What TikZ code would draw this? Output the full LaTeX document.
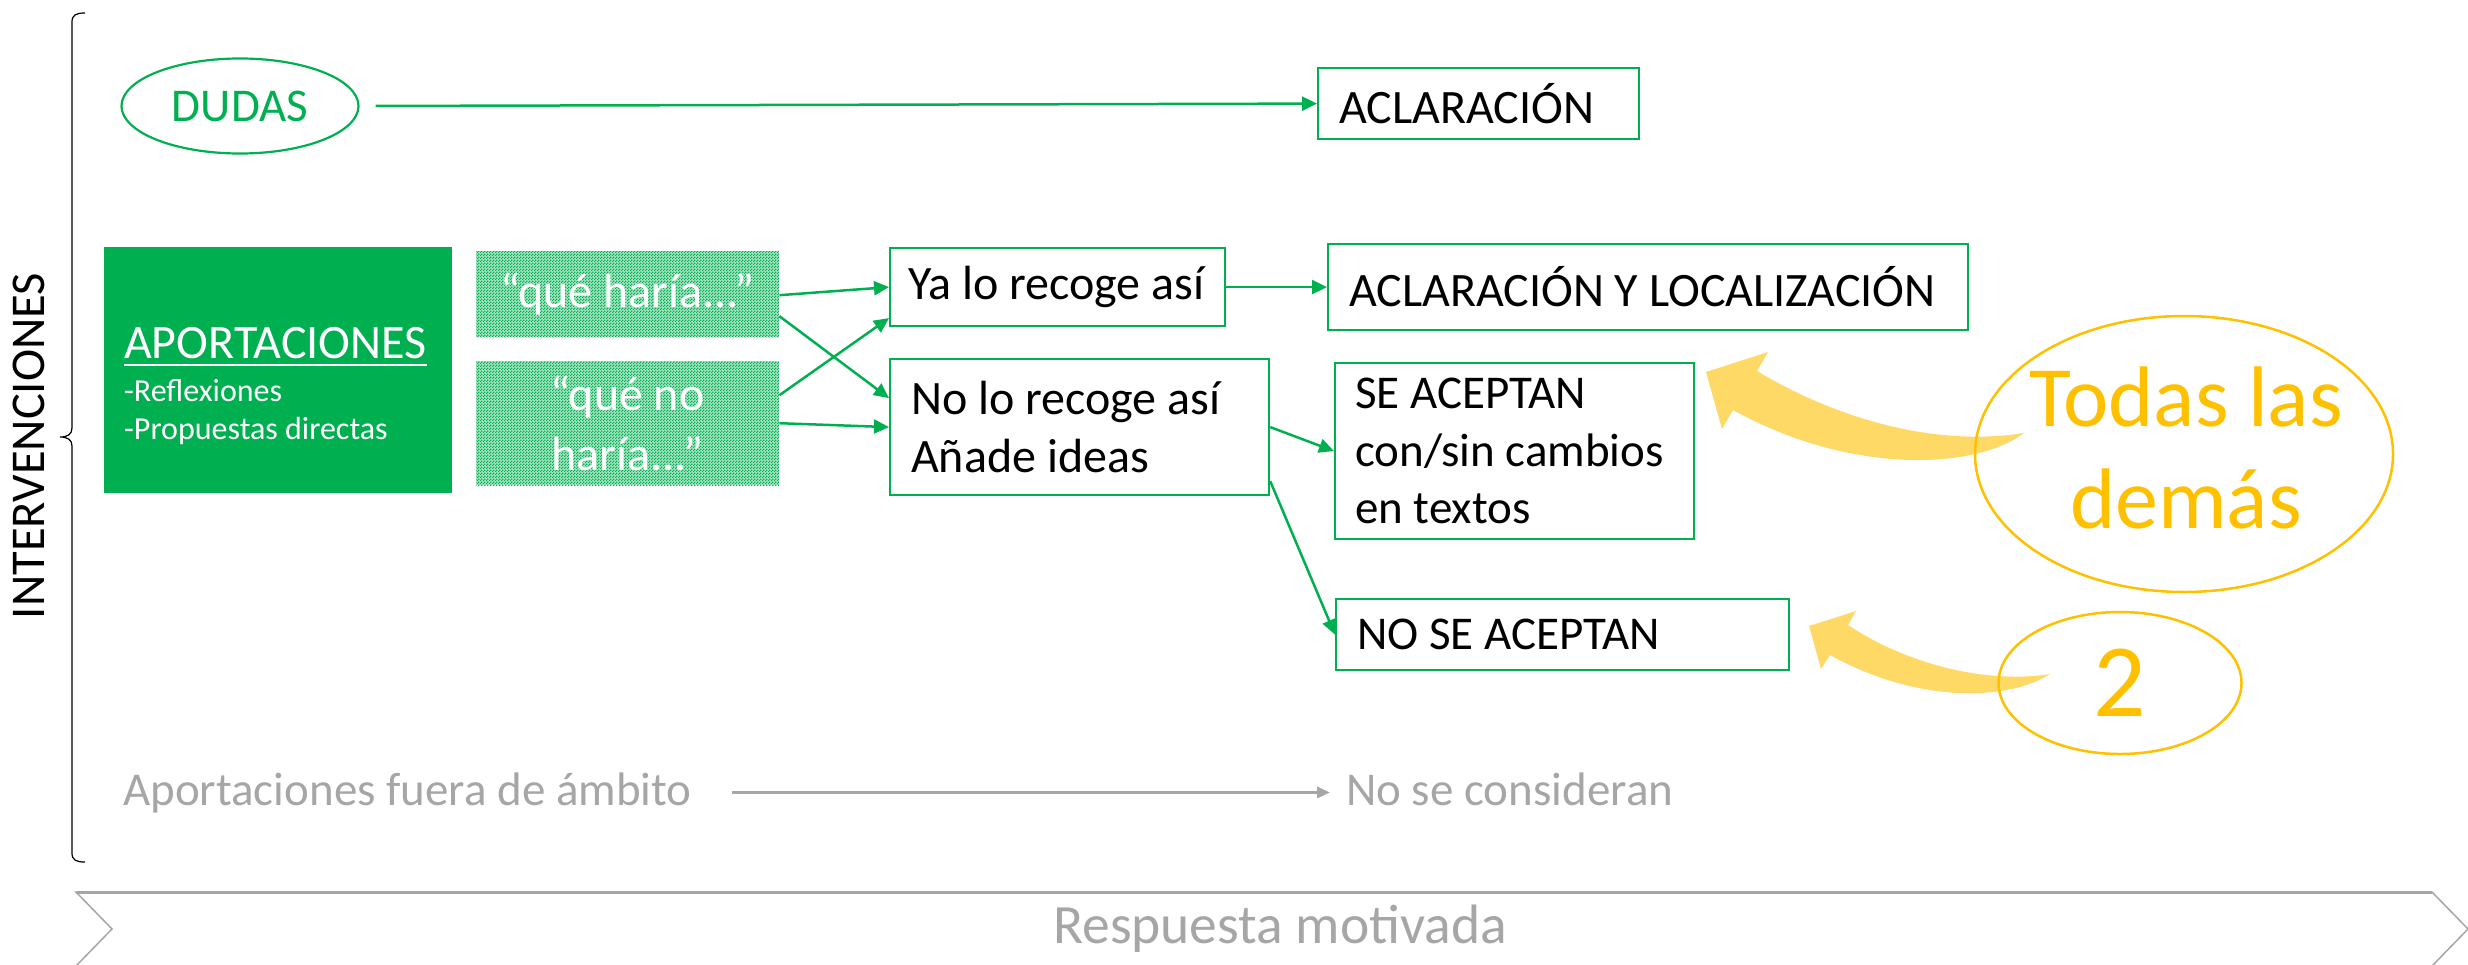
\documentclass[tikz,border=0pt]{standalone}
\usepackage{fontspec}
\setmainfont{Carlito}
\usetikzlibrary{arrows.meta,shapes.geometric,patterns}
\definecolor{xgreen}{RGB}{0,176,80}
\definecolor{xgold}{RGB}{255,192,0}
\definecolor{xgoldfill}{RGB}{255,217,102}
\definecolor{xgray}{RGB}{166,166,166}
\pgfdeclarepatternformonly{xchecker}{\pgfpointorigin}{\pgfqpoint{3pt}{3pt}}{\pgfqpoint{3pt}{3pt}}{%
  \pgfpathrectangle{\pgfpointorigin}{\pgfqpoint{1.5pt}{1.5pt}}%
  \pgfpathrectangle{\pgfqpoint{1.5pt}{1.5pt}}{\pgfqpoint{1.5pt}{1.5pt}}%
  \pgfusepath{fill}}
\begin{document}
\begin{tikzpicture}[x=1pt, y=-1pt,
  gbox/.style={draw=xgreen, line width=2.2pt, anchor=north west, align=flush left, inner ysep=0pt, text=black, font=\fontsize{48}{58}\selectfont},
  garrow/.style={draw=xgreen, line width=2.5pt, -{Triangle[length=15pt,width=14pt]}},
  qbox/.style={preaction={fill=xgreen!35}, pattern=xchecker, pattern color=xgreen, anchor=north west, align=center, text=white, inner sep=0pt, font=\fontsize{48}{60}\selectfont},
  whitetext/.style={text=white, inner sep=0pt, anchor=base west},
  graytext/.style={text=xgray, inner sep=0pt, font=\fontsize{47}{56}\selectfont},
  goldtext/.style={text=xgold, inner sep=0pt},
  goldring/.style={ellipse, draw=xgold, line width=2.5pt, inner sep=0pt},
  bigarrow/.style={fill=xgoldfill, draw=none}
]
\useasboundingbox (0,0) rectangle (2468,964);

% side label and brace
\node[rotate=90, inner sep=0pt, font=\fontsize{48.5}{56}\selectfont] (interv) at (29,446) {INTERVENCIONES};
\draw[line width=1.2pt] (85,13) .. controls (76,13) and (72,15) .. (72,22) -- (72,428)
  .. controls (72,434) and (68,437) .. (60,437) .. controls (68,437) and (72,440) .. (72,446)
  -- (72,853) .. controls (72,860) and (76,862) .. (85,862);

% DUDAS row
\node[ellipse, draw=xgreen, line width=2.2pt, minimum width=237pt, minimum height=95pt, inner sep=0pt, text=xgreen, font=\fontsize{47}{56}\selectfont] (dudas) at (240,106) {DUDAS};
\node[gbox, minimum width=321pt, minimum height=71pt, inner xsep=21pt, text width=279pt] (acl) at (1317,67) {ACLARACIÓN};
\draw[garrow, shorten <=16pt] (dudas.east) -- (acl.west);

% APORTACIONES
\node[fill=xgreen, anchor=north west, minimum width=348pt, minimum height=246pt, inner sep=0pt] (apor) at (104,247) {};
\node[whitetext, font=\fontsize{48}{56}\selectfont] (aptitle) at (124,358) {APORTACIONES};
\draw[white, line width=2.5pt] ([yshift=-7pt]aptitle.base west) -- ([yshift=-7pt]aptitle.base east);
\node[whitetext, font=\fontsize{32}{38}\selectfont] (ap1) at (124,401) {-Reflexiones};
\node[whitetext, font=\fontsize{32}{38}\selectfont] (ap2) at (124,439) {-Propuestas directas};

% quote boxes
\node[qbox, minimum width=303pt, minimum height=86pt] (qh) at (476,251) {“qué haría...”};
\node[qbox, minimum width=303pt, minimum height=124pt] (qn) at (476,361) {“qué no\\haría...”};

% decision boxes
\node[gbox, minimum width=335pt, minimum height=78pt, inner xsep=18pt, text width=299pt] (ya) at (889,247) {Ya lo recoge así};
\node[gbox, minimum width=379pt, minimum height=136pt, inner xsep=21pt, text width=337pt] (no) at (889,358) {No lo recoge así\\Añade ideas};
\node[gbox, minimum width=640pt, minimum height=86pt, inner xsep=21pt, text width=598pt] (acl2) at (1327,243) {ACLARACIÓN Y LOCALIZACIÓN};
\node[gbox, minimum width=359pt, minimum height=176pt, inner xsep=20pt, text width=319pt, font=\fontsize{47}{57.5}\selectfont] (se) at (1334,362) {SE ACEPTAN\\con/sin cambios\\en textos};
\node[gbox, minimum width=453pt, minimum height=71pt, inner xsep=21pt, text width=411pt, font=\fontsize{47}{58}\selectfont] (nose) at (1335,598) {NO SE ACEPTAN};

\draw[garrow] ([yshift=-1pt]qh.east) -- (ya.west);
\draw[garrow] ([yshift=-22pt]qh.east) -- ([yshift=29pt]no.west);
\draw[garrow] ([yshift=28pt]qn.east) -- ([yshift=-31pt]ya.west);
\draw[garrow] (qn.east) -- (no.west);
\draw[garrow] (ya.east) -- (acl2.west);
\draw[garrow] (no.east) -- (se.west);
\draw[garrow] ([yshift=-54pt]no.east) -- (nose.west);

% big yellow arrows
\fill[bigarrow] (1706,372) -- (1768,352) -- (1757,371) .. controls (1830,415) and (1930,448) .. (2024,433)
  .. controls (1975,470) and (1850,475) .. (1733,410) -- (1722,429) -- cycle;
\fill[bigarrow] (1809,626) -- (1856,611) -- (1848,625) .. controls (1900,660) and (1980,685) .. (2050,674)
  .. controls (2010,700) and (1920,705) .. (1830,655) -- (1821,669) -- cycle;

% gold ellipses
\node[goldring, minimum width=418pt, minimum height=276pt] (todas) at (2184,454) {};
\node[goldtext, align=center, font=\fontsize{86}{102}\selectfont] (todastxt) at (2186,448) {Todas las\\demás};
\node[goldring, minimum width=243pt, minimum height=142pt, text=xgold, font=\fontsize{104}{120}\selectfont] (dos) at (2120,683) {2};

% out of scope row
\node[graytext, anchor=base west] (fuera) at (123,805) {Aportaciones fuera de ámbito};
\node[graytext, anchor=base west] (nocons) at (1346,805) {No se consideran};
\draw[xgray, line width=3pt, -{Triangle[length=13pt,width=11pt]}, shorten <=40pt, shorten >=16pt] (fuera.east) -- (fuera.east -| nocons.west);

% bottom chevron
\draw[xgray, line width=1.5pt] (76,892) -- (2432,892) -- (2468,929) -- (2432,966) -- (76,966) -- (112,929) -- cycle;
\draw[xgray, line width=3pt] (76,892) -- (2432,892);
\node[graytext, anchor=base, font=\fontsize{55.5}{60}\selectfont] (resp) at (1280,943) {Respuesta motivada};
\end{tikzpicture}
\end{document}
